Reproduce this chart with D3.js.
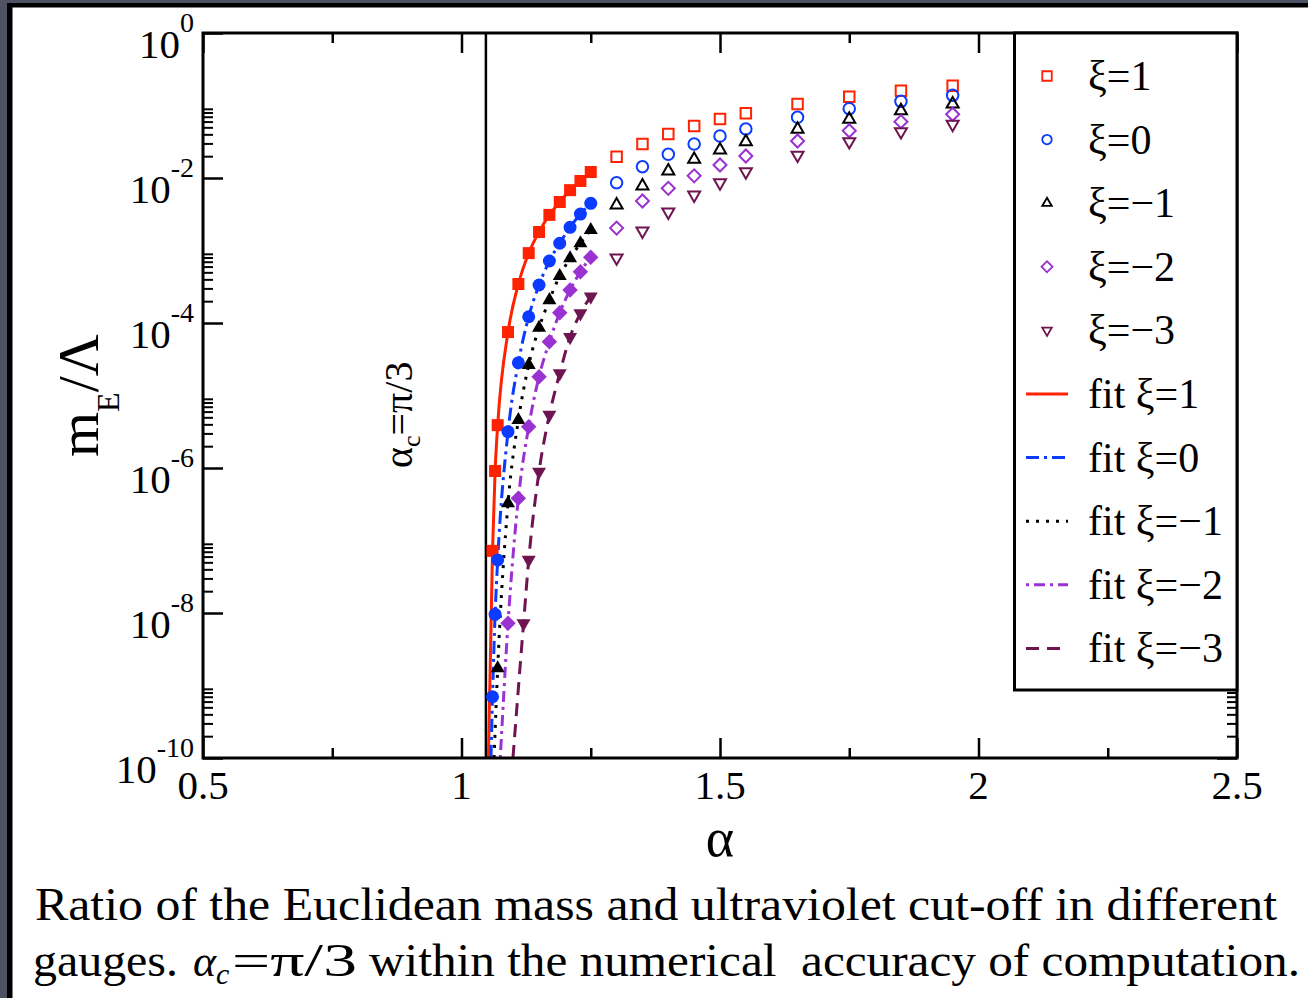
<!DOCTYPE html>
<html><head><meta charset="utf-8">
<script src="https://cdn.jsdelivr.net/npm/d3@7"></script>
<style>
body{margin:0;background:#fff;}
svg{display:block;}
text{font-family:"Liberation Serif","Times New Roman",serif;fill:#000;}
</style>
</head><body>
<svg id="c" width="1308" height="998"></svg>
<script>
// ---------------- DATA ----------------
const xTickValues = [0.5, 1, 1.5, 2, 2.5];
const xTickLabels = ["0.5", "1", "1.5", "2", "2.5"];
const xMinorValues = [0.75, 1.25, 1.75, 2.25];
const yTickValues = [1, 1e-2, 1e-4, 1e-6, 1e-8, 1e-10];
const yTickExponents = ["0", "-2", "-4", "-6", "-8", "-10"];
const alphaCritical = Math.PI / 3;

const seriesLabels = ["ξ=1", "ξ=0", "ξ=−1", "ξ=−2", "ξ=−3"];
const fitLabels = ["fit ξ=1", "fit ξ=0", "fit ξ=−1", "fit ξ=−2", "fit ξ=−3"];

// filled symbols (region fitted)
const filledAlpha = [1.06, 1.065, 1.07, 1.09, 1.11, 1.12, 1.13, 1.15, 1.17, 1.19, 1.21, 1.23, 1.25];
const filledXi1  = [7.2e-8, 9.1e-7, 3.9e-6, 7.5e-5, 3.45e-4, null, 9.2e-4, 1.8e-3, 3.1e-3, 4.67e-3, 6.8e-3, 9.1e-3, 1.21e-2];
const filledXi0  = [7.0e-10, 9.6e-9, 5.4e-8, 3.17e-6, 2.83e-5, null, 1.22e-4, 3.34e-4, 7.16e-4, 1.26e-3, 2.09e-3, 3.18e-3, 4.48e-3];
const filledXim1 = [null, null, 1.73e-9, 3.26e-7, 4.59e-6, null, 2.64e-5, 8.6e-5, 2.07e-4, 4.45e-4, 7.8e-4, 1.26e-3, 1.92e-3];
const filledXim2 = [null, null, null, 7.2e-9, 3.82e-7, null, 3.72e-6, 1.82e-5, 5.52e-5, 1.39e-4, 2.85e-4, 5.1e-4, 8.05e-4];
const filledXim3 = [null, null, null, null, null, 7.2e-9, 5.4e-8, 8.9e-7, 5.4e-6, 2.02e-5, 6.4e-5, 1.36e-4, 2.31e-4];

// open symbols
const openAlpha = [1.30, 1.35, 1.40, 1.45, 1.50, 1.55, 1.65, 1.75, 1.85, 1.95];
const openXi1  = [1.97e-2, 2.94e-2, 4.05e-2, 5.21e-2, 6.52e-2, 7.8e-2, 0.105, 0.132, 0.160, 0.1875];
const openXi0  = [8.6e-3, 1.43e-2, 2.12e-2, 2.94e-2, 3.79e-2, 4.74e-2, 6.87e-2, 9.04e-2, 0.114, 0.138];
const openXim1 = [4.25e-3, 7.76e-3, 1.25e-2, 1.81e-2, 2.43e-2, 3.17e-2, 4.7e-2, 6.46e-2, 8.47e-2, 0.105];
const openXim2 = [2.04e-3, 4.82e-3, 7.21e-3, 1.07e-2, 1.51e-2, 2.01e-2, 3.24e-2, 4.49e-2, 5.98e-2, 7.57e-2];
const openXim3 = [7.9e-4, 1.86e-3, 3.4e-3, 5.83e-3, 8.61e-3, 1.22e-2, 2.07e-2, 3.17e-2, 4.36e-2, 5.51e-2];

// fit curves
const fit1Alpha  = [1.052, 1.06, 1.065, 1.07, 1.09, 1.11, 1.13, 1.15, 1.17, 1.19, 1.21, 1.23, 1.25];
const fit1Value  = [1e-10, 7.2e-8, 9.1e-7, 3.9e-6, 7.5e-5, 3.45e-4, 9.2e-4, 1.8e-3, 3.1e-3, 4.67e-3, 6.8e-3, 9.1e-3, 1.21e-2];
const fit0Alpha  = [1.057, 1.06, 1.065, 1.07, 1.09, 1.11, 1.13, 1.15, 1.17, 1.19, 1.21, 1.23, 1.25];
const fit0Value  = [1e-10, 7.0e-10, 9.6e-9, 5.4e-8, 3.17e-6, 2.83e-5, 1.22e-4, 3.34e-4, 7.16e-4, 1.26e-3, 2.09e-3, 3.18e-3, 4.48e-3];
const fitm1Alpha = [1.063, 1.07, 1.09, 1.11, 1.13, 1.15, 1.17, 1.19, 1.21, 1.23, 1.25];
const fitm1Value = [1e-10, 1.73e-9, 3.26e-7, 4.59e-6, 2.64e-5, 8.6e-5, 2.07e-4, 4.45e-4, 7.8e-4, 1.26e-3, 1.92e-3];
const fitm2Alpha = [1.075, 1.09, 1.11, 1.13, 1.15, 1.17, 1.19, 1.21, 1.23, 1.25];
const fitm2Value = [1e-10, 7.2e-9, 3.82e-7, 3.72e-6, 1.82e-5, 5.52e-5, 1.39e-4, 2.85e-4, 5.1e-4, 8.05e-4];
const fitm3Alpha = [1.0995, 1.12, 1.13, 1.15, 1.17, 1.19, 1.21, 1.23, 1.25];
const fitm3Value = [1e-10, 7.2e-9, 5.4e-8, 8.9e-7, 5.4e-6, 2.02e-5, 6.4e-5, 1.36e-4, 2.31e-4];

// ---------------- STYLE ----------------
const FONT = "Liberation Serif, Times New Roman, serif";
const colors = ["#ff2200", "#0b3bff", "#000000", "#9a32d2", "#6e1450"];
const symbols = ["square", "circle", "triangle", "diamond", "down"];
const dashes = [null, "13,5,3,5", "3,7", "3,5,11,5", "13,8"];
const filledSize = { square: 12, circle: 13, triangle: 14, diamond: 15.5, down: 14 };
const openSize = { square: 10.5, circle: 11.5, triangle: 12, diamond: 13, down: 12 };

const filledSets = [filledXi1, filledXi0, filledXim1, filledXim2, filledXim3];
const openSets = [openXi1, openXi0, openXim1, openXim2, openXim3];
const fitSets = [[fit1Alpha, fit1Value], [fit0Alpha, fit0Value], [fitm1Alpha, fitm1Value], [fitm2Alpha, fitm2Value], [fitm3Alpha, fitm3Value]];

const W = 1308, H = 998;
const L = 203, R = 1237, T = 33, B = 758;

const svg = d3.select("#c");
// outer frame (dark surround, black rule)
svg.append("rect").attr("width", W).attr("height", H).attr("fill", "#4f5262");
svg.append("rect").attr("x", 7).attr("y", 3).attr("width", W).attr("height", H).attr("fill", "#000");
svg.append("rect").attr("x", 12.5).attr("y", 7.5).attr("width", W).attr("height", H).attr("fill", "#fff");

const x = d3.scaleLinear().domain([0.5, 2.5]).range([L, R]);
const y = d3.scaleLog().domain([1e-10, 1]).range([B, T]);

const yMinor = [];
yTickValues.slice(1).forEach(v => { for (let k = 2; k <= 9; k++) yMinor.push(k * v); });

function axisG(axis, tx, ty, w) {
  const g = svg.append("g").attr("transform", `translate(${tx},${ty})`).call(axis);
  g.select(".domain").remove();
  g.selectAll("line").attr("stroke", "#000").attr("stroke-width", w);
  g.selectAll("text").remove();
  return g;
}
// major / minor ticks, inward on all four sides
axisG(d3.axisBottom(x).tickValues(xTickValues).tickSize(-20).tickFormat(""), 0, B, 2.5);
axisG(d3.axisBottom(x).tickValues(xMinorValues).tickSize(-10).tickFormat(""), 0, B, 2.5);
axisG(d3.axisTop(x).tickValues(xTickValues).tickSize(-20).tickFormat(""), 0, T, 2.5);
axisG(d3.axisTop(x).tickValues(xMinorValues).tickSize(-10).tickFormat(""), 0, T, 2.5);
axisG(d3.axisLeft(y).tickValues(yTickValues).tickSize(-20).tickFormat(""), L, 0, 2.5);
axisG(d3.axisLeft(y).tickValues(yMinor).tickSize(-10).tickFormat(""), L, 0, 2);
axisG(d3.axisRight(y).tickValues(yTickValues).tickSize(-20).tickFormat(""), R, 0, 2.5);
axisG(d3.axisRight(y).tickValues(yMinor).tickSize(-10).tickFormat(""), R, 0, 2);

// vertical line at alpha_c
svg.append("line").attr("x1", x(alphaCritical)).attr("x2", x(alphaCritical))
  .attr("y1", y(1e-10)).attr("y2", y(1)).attr("stroke", "#000").attr("stroke-width", 2.5);

// fit lines
const lineGen = d3.line().x(d => x(d[0])).y(d => y(d[1])).curve(d3.curveMonotoneX);
fitSets.forEach((fs, i) => {
  const pts = fs[0].map((a, j) => [a, fs[1][j]]);
  svg.append("path").attr("d", lineGen(pts)).attr("fill", "none")
    .attr("stroke", colors[i]).attr("stroke-width", 3)
    .attr("stroke-dasharray", dashes[i]);
});

function symPath(type, s) {
  if (type === "square") return d3.symbol(d3.symbolSquare, s * s)();
  if (type === "circle") return d3.symbol(d3.symbolCircle, Math.PI * s * s / 4)();
  if (type === "triangle" || type === "down") return d3.symbol(d3.symbolTriangle, Math.sqrt(3) / 4 * s * s)();
  if (type === "diamond") return d3.symbol(d3.symbolSquare, s * s / 2)();
}
function symRot(type) { return type === "diamond" ? " rotate(45)" : type === "down" ? " rotate(180)" : ""; }

// filled markers
filledSets.forEach((vals, i) => {
  svg.append("g").selectAll("path").data(filledAlpha.map((a, j) => [a, vals[j]]).filter(d => d[1] != null))
    .join("path")
    .attr("d", symPath(symbols[i], filledSize[symbols[i]]))
    .attr("transform", d => `translate(${x(d[0])},${y(d[1])})` + symRot(symbols[i]))
    .attr("fill", colors[i]);
});

// open markers
openSets.forEach((vals, i) => {
  svg.append("g").selectAll("path").data(openAlpha.map((a, j) => [a, vals[j]]))
    .join("path")
    .attr("d", symPath(symbols[i], openSize[symbols[i]]))
    .attr("transform", d => `translate(${x(d[0])},${y(d[1])})` + symRot(symbols[i]))
    .attr("fill", "none").attr("stroke", colors[i]).attr("stroke-width", 2);
});

// plot frame
svg.append("rect").attr("x", L).attr("y", T).attr("width", R - L).attr("height", B - T)
  .attr("fill", "none").attr("stroke", "#000").attr("stroke-width", 3);

// x tick labels
svg.append("g").selectAll("text").data(xTickValues).join("text")
  .attr("font-family", FONT)
  .attr("x", d => x(d)).attr("y", B + 41).attr("text-anchor", "middle")
  .attr("font-size", 41).text((d, i) => xTickLabels[i]);

// y tick labels
yTickValues.forEach((v, i) => {
  const t = svg.append("text").attr("font-family", FONT).attr("x", 194).attr("y", y(v) + 24.5).attr("text-anchor", "end");
  t.append("tspan").attr("font-size", 41).text("10");
  t.append("tspan").attr("font-size", 28).attr("dy", -25.5).text(yTickExponents[i]);
});

// axis titles
svg.append("text").attr("font-family", FONT).attr("x", (L + R) / 2).attr("y", 856).attr("text-anchor", "middle")
  .attr("font-size", 54).text("α");
const yl = svg.append("text").attr("font-family", FONT).attr("transform", "translate(98,457) rotate(-90)");
yl.append("tspan").attr("font-size", 58).text("m");
yl.append("tspan").attr("font-size", 32).attr("dy", 21).text("E");
yl.append("tspan").attr("font-size", 58).attr("dy", -21).text("/Λ");

// alpha_c annotation
const an = svg.append("text").attr("font-family", FONT).attr("transform", "translate(412,468) rotate(-90)");
an.append("tspan").attr("font-size", 40).text("α");
an.append("tspan").attr("font-size", 26).attr("dy", 8).text("c");
an.append("tspan").attr("font-size", 40).attr("dy", -8).text("=π/3");

// legend
const lg = svg.append("g");
lg.append("rect").attr("x", 1014.5).attr("y", T).attr("width", R - 1014.5).attr("height", 690 - T)
  .attr("fill", "#fff").attr("stroke", "#000").attr("stroke-width", 3);
const rowY = i => 76 + 63.6 * i;
seriesLabels.forEach((lab, i) => {
  lg.append("path").attr("d", symPath(symbols[i], symbols[i] === "diamond" ? 11 : 9.5))
    .attr("transform", `translate(1047,${rowY(i)})` + symRot(symbols[i]))
    .attr("fill", "none").attr("stroke", colors[i]).attr("stroke-width", 1.8);
  lg.append("text").attr("font-family", FONT).attr("x", 1088).attr("y", rowY(i) + 14).attr("font-size", 42).text(lab);
});
fitLabels.forEach((lab, i) => {
  const yy = rowY(i + 5);
  lg.append("line").attr("x1", 1026).attr("x2", 1068).attr("y1", yy).attr("y2", yy)
    .attr("stroke", colors[i]).attr("stroke-width", 3).attr("stroke-dasharray", dashes[i]);
  lg.append("text").attr("font-family", FONT).attr("x", 1088).attr("y", yy + 14).attr("font-size", 42).text(lab);
});

// caption
svg.append("text").attr("font-family", FONT).attr("x", 35).attr("y", 920).attr("font-size", 46)
  .attr("textLength", 1242).attr("lengthAdjust", "spacingAndGlyphs")
  .text("Ratio of the Euclidean mass and ultraviolet cut-off in different");
svg.append("text").attr("font-family", FONT).attr("x", 33).attr("y", 976).attr("font-size", 46)
  .attr("textLength", 145).attr("lengthAdjust", "spacingAndGlyphs").text("gauges.");
svg.append("text").attr("font-family", FONT).attr("x", 193).attr("y", 976).attr("font-size", 44).attr("font-style", "italic").text("α");
svg.append("text").attr("font-family", FONT).attr("x", 216).attr("y", 984).attr("font-size", 30).attr("font-style", "italic").text("c");
svg.append("text").attr("font-family", FONT).attr("x", 232).attr("y", 976).attr("font-size", 46)
  .attr("textLength", 125).attr("lengthAdjust", "spacingAndGlyphs").text("=π/3");
svg.append("text").attr("font-family", FONT).attr("x", 369).attr("y", 976).attr("font-size", 46)
  .style("white-space", "pre")
  .attr("textLength", 931).attr("lengthAdjust", "spacingAndGlyphs")
  .text("within the numerical  accuracy of computation.");
</script>
</body></html>
